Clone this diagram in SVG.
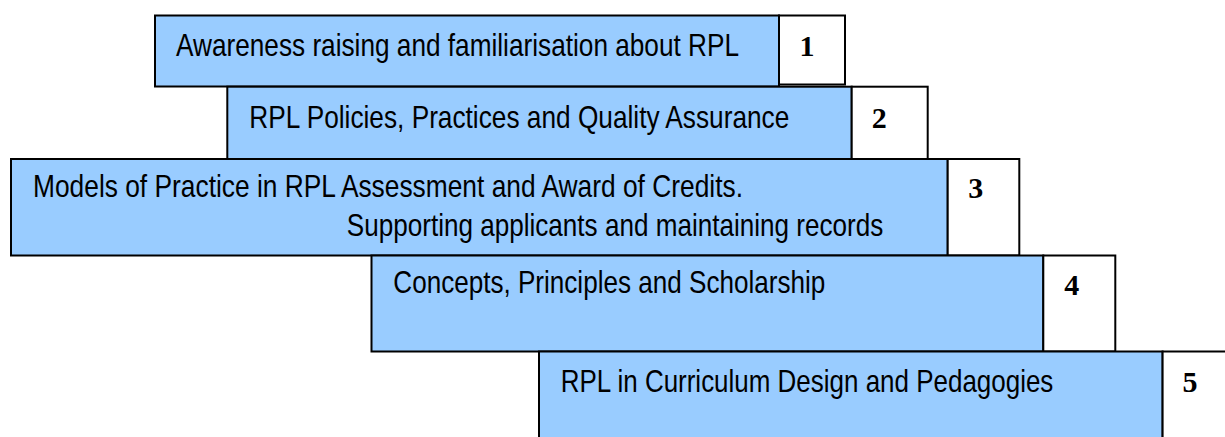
<svg xmlns="http://www.w3.org/2000/svg" width="1225" height="437" viewBox="0 0 1225 437">
  <style>
    .bar { fill: #99ccff; stroke: #000; stroke-width: 2; }
    .num { fill: #ffffff; stroke: #000; stroke-width: 2; }
    .label { font-family: "Liberation Sans", Arial, sans-serif; font-size: 31px; fill: #000; }
    .digit { font-family: "Liberation Serif", "Times New Roman", serif; font-size: 30px; font-weight: bold; fill: #000; text-anchor: middle; }
  </style>
  <rect width="1225" height="437" fill="#ffffff"/>

  <!-- labels are set in a horizontally condensed sans (scale 0.845) -->
  <g id="step1">
    <rect class="bar" x="155" y="15.5" width="624" height="71"/>
    <rect class="num" x="779" y="15.5" width="66" height="69"/>
    <text class="label" transform="translate(176 55.7) scale(0.845 1)" textLength="666.3" lengthAdjust="spacingAndGlyphs">Awareness raising and familiarisation about RPL</text>
    <text class="digit" x="807" y="55.7">1</text>
  </g>

  <g id="step2">
    <rect class="bar" x="227.3" y="86.7" width="624.4" height="72.6"/>
    <rect class="num" x="851.7" y="86.7" width="76" height="72.6"/>
    <text class="label" transform="translate(249.3 128.3) scale(0.845 1)" textLength="639.1" lengthAdjust="spacingAndGlyphs">RPL Policies, Practices and Quality Assurance</text>
    <text class="digit" x="879.3" y="128.3">2</text>
  </g>

  <g id="step3">
    <rect class="bar" x="11" y="159" width="936.7" height="96.5"/>
    <rect class="num" x="947.7" y="159" width="71.6" height="96.5"/>
    <text class="label" transform="translate(33 196.7) scale(0.845 1)" textLength="840.2" lengthAdjust="spacingAndGlyphs">Models of Practice in RPL Assessment and Award of Credits.</text>
    <text class="label" transform="translate(346.8 236) scale(0.845 1)" textLength="634.9" lengthAdjust="spacingAndGlyphs">Supporting applicants and maintaining records</text>
    <text class="digit" x="975.7" y="198.3">3</text>
  </g>

  <g id="step4">
    <rect class="bar" x="371.5" y="255.5" width="671.8" height="96"/>
    <rect class="num" x="1043.3" y="255.5" width="72" height="96"/>
    <text class="label" transform="translate(393.3 293.3) scale(0.845 1)" textLength="511.2" lengthAdjust="spacingAndGlyphs">Concepts, Principles and Scholarship</text>
    <text class="digit" x="1071.7" y="295">4</text>
  </g>

  <g id="step5">
    <rect class="bar" x="539" y="351.5" width="623.6" height="100"/>
    <rect class="num" x="1162.6" y="351.5" width="80" height="100"/>
    <text class="label" transform="translate(560.7 391.7) scale(0.845 1)" textLength="583" lengthAdjust="spacingAndGlyphs">RPL in Curriculum Design and Pedagogies</text>
    <text class="digit" x="1190" y="392">5</text>
  </g>

  <g id="connectors"/>
</svg>
